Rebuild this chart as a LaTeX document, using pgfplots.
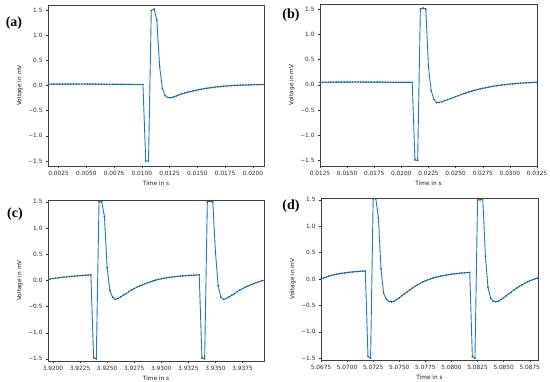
\documentclass[border=0pt]{standalone}
\usepackage{fontspec}
\setmainfont{DejaVu Sans}
\newfontfamily\labfont{Liberation Serif}
\usepackage{pgfplots}
\usepackage{pgfplotstable}
\pgfplotsset{compat=1.18}
\definecolor{mplblue}{HTML}{1F77B4}

\pgfplotstableread{
t v
0.00160 0.025
0.00185 0.026
0.00210 0.026
0.00235 0.027
0.00260 0.026
0.00285 0.027
0.00310 0.028
0.00335 0.027
0.00360 0.028
0.00385 0.029
0.00410 0.028
0.00435 0.029
0.00460 0.030
0.00485 0.029
0.00510 0.028
0.00535 0.028
0.00560 0.027
0.00585 0.027
0.00610 0.026
0.00635 0.026
0.00660 0.025
0.00685 0.025
0.00710 0.024
0.00735 0.024
0.00760 0.023
0.00785 0.023
0.00810 0.022
0.00835 0.022
0.00860 0.021
0.00885 0.021
0.00910 0.020
0.00935 0.020
0.00960 0.020
0.00985 0.019
0.01010 0.019
0.01035 -1.50
0.01060 -1.50
0.01085 1.49
0.01110 1.52
0.01135 1.30
0.01160 0.38
0.01185 -0.06
0.01210 -0.20
0.01235 -0.240
0.01260 -0.243
0.01285 -0.228
0.01310 -0.210
0.01335 -0.185
0.01360 -0.165
0.01385 -0.150
0.01410 -0.135
0.01435 -0.122
0.01460 -0.108
0.01485 -0.095
0.01510 -0.085
0.01535 -0.075
0.01560 -0.063
0.01585 -0.055
0.01610 -0.047
0.01635 -0.040
0.01660 -0.033
0.01685 -0.026
0.01710 -0.020
0.01735 -0.015
0.01760 -0.010
0.01785 -0.006
0.01810 -0.002
0.01835 0.001
0.01860 0.004
0.01885 0.006
0.01910 0.008
0.01935 0.010
0.01960 0.012
0.01985 0.014
0.02010 0.015
0.02035 0.017
0.02060 0.018
0.02085 0.019
0.02110 0.020
}\tablea

\pgfplotstableread{
t v
0.01250 0.048
0.01275 0.049
0.01300 0.050
0.01325 0.050
0.01350 0.051
0.01375 0.051
0.01400 0.052
0.01425 0.052
0.01450 0.052
0.01475 0.053
0.01500 0.053
0.01525 0.053
0.01550 0.054
0.01575 0.054
0.01600 0.054
0.01625 0.054
0.01650 0.053
0.01675 0.053
0.01700 0.053
0.01725 0.052
0.01750 0.052
0.01775 0.052
0.01800 0.051
0.01825 0.051
0.01850 0.050
0.01875 0.050
0.01900 0.049
0.01925 0.049
0.01950 0.048
0.01975 0.048
0.02000 0.047
0.02025 0.047
0.02050 0.047
0.02075 0.046
0.02100 0.046
0.02125 -1.49
0.02150 -1.50
0.02175 1.50
0.02200 1.52
0.02225 1.50
0.02250 0.35
0.02275 -0.12
0.02300 -0.29
0.02325 -0.355
0.02350 -0.350
0.02375 -0.335
0.02400 -0.315
0.02425 -0.295
0.02450 -0.275
0.02475 -0.255
0.02500 -0.235
0.02525 -0.215
0.02550 -0.195
0.02575 -0.176
0.02600 -0.158
0.02625 -0.141
0.02650 -0.125
0.02675 -0.110
0.02700 -0.096
0.02725 -0.083
0.02750 -0.071
0.02775 -0.060
0.02800 -0.049
0.02825 -0.039
0.02850 -0.030
0.02875 -0.021
0.02900 -0.013
0.02925 -0.006
0.02950 0.001
0.02975 0.007
0.03000 0.013
0.03025 0.018
0.03050 0.023
0.03075 0.027
0.03100 0.031
0.03125 0.035
0.03150 0.038
0.03175 0.041
0.03200 0.044
0.03225 0.046
0.03250 0.048
}\tableb

\pgfplotstableread{
t v
3.91950 0.018
3.91975 0.027
3.92000 0.035
3.92025 0.042
3.92050 0.049
3.92075 0.055
3.92100 0.061
3.92125 0.067
3.92150 0.072
3.92175 0.077
3.92200 0.082
3.92225 0.086
3.92250 0.090
3.92275 0.094
3.92300 0.098
3.92325 0.101
3.92350 0.104
3.92375 -1.48
3.92400 -1.50
3.92425 1.50
3.92450 1.50
3.92475 1.22
3.92500 0.24
3.92525 -0.19
3.92550 -0.32
3.92575 -0.365
3.92600 -0.345
3.92625 -0.315
3.92650 -0.285
3.92675 -0.255
3.92700 -0.215
3.92725 -0.185
3.92750 -0.157
3.92775 -0.131
3.92800 -0.107
3.92825 -0.085
3.92850 -0.064
3.92875 -0.044
3.92900 -0.026
3.92925 -0.009
3.92950 0.006
3.92975 0.019
3.93000 0.030
3.93025 0.040
3.93050 0.049
3.93075 0.057
3.93100 0.064
3.93125 0.070
3.93150 0.076
3.93175 0.081
3.93200 0.086
3.93225 0.090
3.93250 0.094
3.93275 0.097
3.93300 0.100
3.93325 0.102
3.93350 0.104
3.93375 -1.48
3.93400 -1.50
3.93425 1.50
3.93450 1.51
3.93475 1.50
3.93500 0.53
3.93525 -0.10
3.93550 -0.32
3.93575 -0.365
3.93600 -0.345
3.93625 -0.315
3.93650 -0.285
3.93675 -0.255
3.93700 -0.215
3.93725 -0.185
3.93750 -0.157
3.93775 -0.131
3.93800 -0.107
3.93825 -0.085
3.93850 -0.064
3.93875 -0.044
3.93900 -0.026
3.93925 -0.009
3.93950 0.006
3.93975 0.019
}\tablec

\pgfplotstableread{
t v
5.06750 0.000
5.06775 0.020
5.06800 0.038
5.06825 0.054
5.06850 0.068
5.06875 0.080
5.06900 0.091
5.06925 0.100
5.06950 0.108
5.06975 0.115
5.07000 0.122
5.07025 0.128
5.07050 0.133
5.07075 0.138
5.07100 0.142
5.07125 0.146
5.07150 0.149
5.07175 0.152
5.07200 -1.47
5.07225 -1.50
5.07250 1.52
5.07275 1.52
5.07300 1.16
5.07325 0.19
5.07350 -0.27
5.07375 -0.38
5.07400 -0.425
5.07425 -0.432
5.07450 -0.420
5.07475 -0.390
5.07500 -0.355
5.07525 -0.318
5.07550 -0.280
5.07575 -0.243
5.07600 -0.207
5.07625 -0.173
5.07650 -0.141
5.07675 -0.111
5.07700 -0.083
5.07725 -0.058
5.07750 -0.035
5.07775 -0.015
5.07800 0.003
5.07825 0.019
5.07850 0.033
5.07875 0.045
5.07900 0.056
5.07925 0.066
5.07950 0.075
5.07975 0.083
5.08000 0.090
5.08025 0.097
5.08050 0.103
5.08075 0.108
5.08100 0.113
5.08125 0.117
5.08150 0.121
5.08175 0.125
5.08200 -1.47
5.08225 -1.50
5.08250 1.50
5.08275 1.50
5.08300 1.52
5.08325 0.43
5.08350 -0.16
5.08375 -0.36
5.08400 -0.42
5.08425 -0.430
5.08450 -0.420
5.08475 -0.390
5.08500 -0.355
5.08525 -0.318
5.08550 -0.280
5.08575 -0.243
5.08600 -0.207
5.08625 -0.173
5.08650 -0.141
5.08675 -0.111
5.08700 -0.083
5.08725 -0.058
5.08750 -0.035
5.08775 -0.015
5.08800 0.003
5.08825 0.019
5.08850 0.033
}\tabled

\pgfplotsset{
  sig/.style={color=mplblue, line width=0.9pt, mark=*, mark size=0.7pt,
    mark options={fill=mplblue!80!black, draw=mplblue!80!black, line width=0.2pt}},
  panel/.style={
    scale only axis,
    axis line style={draw=black!75, line width=0.5pt},
    tick style={draw=black!80, line width=0.4pt},
    tick align=outside,
    major tick length=2pt,
    tick pos=left,
    tick label style={font=\fontsize{5.8}{6.5}\selectfont, text=black!85},
    label style={font=\fontsize{5.8}{6.5}\selectfont, text=black!90},
    xlabel={Time in s},
    ylabel={Voltage in mV},
    xlabel style={yshift=1.5pt},
    ylabel style={yshift=-1pt},
    ytick={-1.5,-1,-0.5,0,0.5,1,1.5},
    yticklabels={−1.5,−1.0,−0.5,0.0,0.5,1.0,1.5},
    scaled x ticks=false,
    clip=true,
  }
}

\begin{document}
\begin{tikzpicture}[x=1pt,y=1pt]
\useasboundingbox (0,0) rectangle (550,382);

\begin{axis}[panel, at={(48pt,216pt)}, anchor=south west, width=216pt, height=161pt,
  xmin=0.00155, xmax=0.0210, ymin=-1.6, ymax=1.6,
  xtick={0.0025,0.005,0.0075,0.01,0.0125,0.015,0.0175,0.02},
  xticklabels={0.0025,0.0050,0.0075,0.0100,0.0125,0.0150,0.0175,0.0200}]
\addplot[sig] table[x=t,y=v] {\tablea};
\end{axis}

\begin{axis}[panel, at={(320pt,216pt)}, anchor=south west, width=217pt, height=162pt,
  xmin=0.0125, xmax=0.0325, ymin=-1.61, ymax=1.6,
  xtick={0.0125,0.015,0.0175,0.02,0.0225,0.025,0.0275,0.03,0.0325},
  xticklabels={0.0125,0.0150,0.0175,0.0200,0.0225,0.0250,0.0275,0.0300,0.0325}]
\addplot[sig] table[x=t,y=v] {\tableb};
\end{axis}

\begin{axis}[panel, at={(48pt,21pt)}, anchor=south west, width=216pt, height=161pt,
  xmin=3.91954, xmax=3.93948, ymin=-1.54, ymax=1.535,
  xtick={3.92,3.9225,3.925,3.9275,3.93,3.9325,3.935,3.9375},
  xticklabels={3.9200,3.9225,3.9250,3.9275,3.9300,3.9325,3.9350,3.9375}]
\addplot[sig] table[x=t,y=v] {\tablec};
\end{axis}

\begin{axis}[panel, at={(321pt,22pt)}, anchor=south west, width=217pt, height=162pt,
  xmin=5.0675, xmax=5.08829, ymin=-1.535, ymax=1.535,
  xtick={5.0675,5.07,5.0725,5.075,5.0775,5.08,5.0825,5.085,5.0875},
  xticklabels={5.0675,5.0700,5.0725,5.0750,5.0775,5.0800,5.0825,5.0850,5.0875}]
\addplot[sig] table[x=t,y=v] {\tabled};
\end{axis}

\node[font=\labfont\bfseries\fontsize{14}{15}\selectfont] at (14,359) {(a)};
\node[font=\labfont\bfseries\fontsize{14}{15}\selectfont] at (291,367) {(b)};
\node[font=\labfont\bfseries\fontsize{14}{15}\selectfont] at (15,168) {(c)};
\node[font=\labfont\bfseries\fontsize{14}{15}\selectfont] at (291,176) {(d)};
\end{tikzpicture}
\end{document}
